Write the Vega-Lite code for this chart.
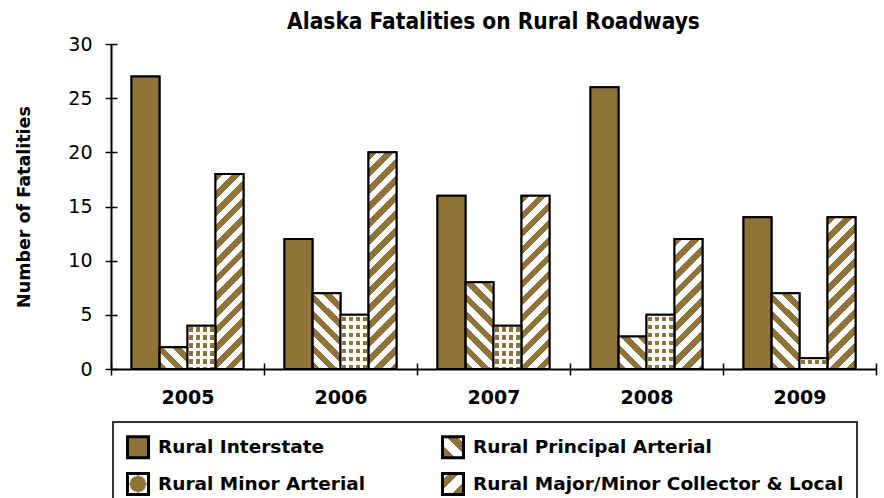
{
  "$schema": "https://vega.github.io/schema/vega-lite/v6.json",
  "autosize": "none",
  "width": 765,
  "height": 325,
  "padding": {"left": 111, "top": 44, "right": 8, "bottom": 129},
  "background": "white",
  "title": {"text": "Alaska Fatalities on Rural Roadways", "font": "Liberation Sans Narrow, DejaVu Sans Condensed, Lato", "fontSize": 22.5, "fontWeight": "bold", "color": "black", "anchor": "middle", "baseline": "alphabetic", "offset": 0, "dy": 16},
  "params": [
    {"name": "ss", "value": [{"offset":0,"color":"#8F7439"},{"offset":0.0333,"color":"#8F7439"},{"offset":0.0333,"color":"#ffffff"},{"offset":0.0667,"color":"#ffffff"},{"offset":0.0667,"color":"#8F7439"},{"offset":0.1,"color":"#8F7439"},{"offset":0.1,"color":"#ffffff"},{"offset":0.1333,"color":"#ffffff"},{"offset":0.1333,"color":"#8F7439"},{"offset":0.1667,"color":"#8F7439"},{"offset":0.1667,"color":"#ffffff"},{"offset":0.2,"color":"#ffffff"},{"offset":0.2,"color":"#8F7439"},{"offset":0.2333,"color":"#8F7439"},{"offset":0.2333,"color":"#ffffff"},{"offset":0.2667,"color":"#ffffff"},{"offset":0.2667,"color":"#8F7439"},{"offset":0.3,"color":"#8F7439"},{"offset":0.3,"color":"#ffffff"},{"offset":0.3333,"color":"#ffffff"},{"offset":0.3333,"color":"#8F7439"},{"offset":0.3667,"color":"#8F7439"},{"offset":0.3667,"color":"#ffffff"},{"offset":0.4,"color":"#ffffff"},{"offset":0.4,"color":"#8F7439"},{"offset":0.4333,"color":"#8F7439"},{"offset":0.4333,"color":"#ffffff"},{"offset":0.4667,"color":"#ffffff"},{"offset":0.4667,"color":"#8F7439"},{"offset":0.5,"color":"#8F7439"},{"offset":0.5,"color":"#ffffff"},{"offset":0.5333,"color":"#ffffff"},{"offset":0.5333,"color":"#8F7439"},{"offset":0.5667,"color":"#8F7439"},{"offset":0.5667,"color":"#ffffff"},{"offset":0.6,"color":"#ffffff"},{"offset":0.6,"color":"#8F7439"},{"offset":0.6333,"color":"#8F7439"},{"offset":0.6333,"color":"#ffffff"},{"offset":0.6667,"color":"#ffffff"},{"offset":0.6667,"color":"#8F7439"},{"offset":0.7,"color":"#8F7439"},{"offset":0.7,"color":"#ffffff"},{"offset":0.7333,"color":"#ffffff"},{"offset":0.7333,"color":"#8F7439"},{"offset":0.7667,"color":"#8F7439"},{"offset":0.7667,"color":"#ffffff"},{"offset":0.8,"color":"#ffffff"},{"offset":0.8,"color":"#8F7439"},{"offset":0.8333,"color":"#8F7439"},{"offset":0.8333,"color":"#ffffff"},{"offset":0.8667,"color":"#ffffff"},{"offset":0.8667,"color":"#8F7439"},{"offset":0.9,"color":"#8F7439"},{"offset":0.9,"color":"#ffffff"},{"offset":0.9333,"color":"#ffffff"},{"offset":0.9333,"color":"#8F7439"},{"offset":0.9667,"color":"#8F7439"},{"offset":0.9667,"color":"#ffffff"},{"offset":1,"color":"#ffffff"}]},
    {"name": "ds", "value": [{"offset":0,"color":"#ffffff"},{"offset":0.0273,"color":"#ffffff"},{"offset":0.0273,"color":"#8F7439"},{"offset":0.0977,"color":"#8F7439"},{"offset":0.0977,"color":"#ffffff"},{"offset":0.1523,"color":"#ffffff"},{"offset":0.1523,"color":"#8F7439"},{"offset":0.2227,"color":"#8F7439"},{"offset":0.2227,"color":"#ffffff"},{"offset":0.2773,"color":"#ffffff"},{"offset":0.2773,"color":"#8F7439"},{"offset":0.3477,"color":"#8F7439"},{"offset":0.3477,"color":"#ffffff"},{"offset":0.4023,"color":"#ffffff"},{"offset":0.4023,"color":"#8F7439"},{"offset":0.4727,"color":"#8F7439"},{"offset":0.4727,"color":"#ffffff"},{"offset":0.5273,"color":"#ffffff"},{"offset":0.5273,"color":"#8F7439"},{"offset":0.5977,"color":"#8F7439"},{"offset":0.5977,"color":"#ffffff"},{"offset":0.6523,"color":"#ffffff"},{"offset":0.6523,"color":"#8F7439"},{"offset":0.7227,"color":"#8F7439"},{"offset":0.7227,"color":"#ffffff"},{"offset":0.7773,"color":"#ffffff"},{"offset":0.7773,"color":"#8F7439"},{"offset":0.8477,"color":"#8F7439"},{"offset":0.8477,"color":"#ffffff"},{"offset":0.9023,"color":"#ffffff"},{"offset":0.9023,"color":"#8F7439"},{"offset":0.9727,"color":"#8F7439"},{"offset":0.9727,"color":"#ffffff"},{"offset":1,"color":"#ffffff"}]},
    {"name": "dc", "value": [{"offset":0,"color":"#ffffff"},{"offset":0.0536,"color":"#ffffff"},{"offset":0.0536,"color":"rgba(255,255,255,0)"},{"offset":0.1964,"color":"rgba(255,255,255,0)"},{"offset":0.1964,"color":"#ffffff"},{"offset":0.3036,"color":"#ffffff"},{"offset":0.3036,"color":"rgba(255,255,255,0)"},{"offset":0.4464,"color":"rgba(255,255,255,0)"},{"offset":0.4464,"color":"#ffffff"},{"offset":0.5536,"color":"#ffffff"},{"offset":0.5536,"color":"rgba(255,255,255,0)"},{"offset":0.6964,"color":"rgba(255,255,255,0)"},{"offset":0.6964,"color":"#ffffff"},{"offset":0.8036,"color":"#ffffff"},{"offset":0.8036,"color":"rgba(255,255,255,0)"},{"offset":0.9464,"color":"rgba(255,255,255,0)"},{"offset":0.9464,"color":"#ffffff"},{"offset":1,"color":"#ffffff"}]},
    {"name": "lp", "value": [{"offset": 0, "color": "#8F7439"}, {"offset": 0.3, "color": "#8F7439"}, {"offset": 0.3, "color": "#ffffff"}, {"offset": 0.6, "color": "#ffffff"}, {"offset": 0.6, "color": "#8F7439"}, {"offset": 0.85, "color": "#8F7439"}, {"offset": 0.85, "color": "#ffffff"}, {"offset": 1, "color": "#ffffff"}]},
    {"name": "lc", "value": [{"offset": 0, "color": "#ffffff"}, {"offset": 0.15, "color": "#ffffff"}, {"offset": 0.15, "color": "#8F7439"}, {"offset": 0.4, "color": "#8F7439"}, {"offset": 0.4, "color": "#ffffff"}, {"offset": 0.7, "color": "#ffffff"}, {"offset": 0.7, "color": "#8F7439"}, {"offset": 1, "color": "#8F7439"}]},
    {"name": "ld", "value": [{"offset": 0, "color": "#8F7439"}, {"offset": 0.78, "color": "#8F7439"}, {"offset": 0.78, "color": "#ffffff"}, {"offset": 1, "color": "#ffffff"}]}
  ],
  "data": {"values": [
    {"year": "2005", "type": "Rural Interstate", "value": 27},
    {"year": "2005", "type": "Rural Principal Arterial", "value": 2},
    {"year": "2005", "type": "Rural Minor Arterial", "value": 4},
    {"year": "2005", "type": "Rural Major/Minor Collector & Local", "value": 18},
    {"year": "2006", "type": "Rural Interstate", "value": 12},
    {"year": "2006", "type": "Rural Principal Arterial", "value": 7},
    {"year": "2006", "type": "Rural Minor Arterial", "value": 5},
    {"year": "2006", "type": "Rural Major/Minor Collector & Local", "value": 20},
    {"year": "2007", "type": "Rural Interstate", "value": 16},
    {"year": "2007", "type": "Rural Principal Arterial", "value": 8},
    {"year": "2007", "type": "Rural Minor Arterial", "value": 4},
    {"year": "2007", "type": "Rural Major/Minor Collector & Local", "value": 16},
    {"year": "2008", "type": "Rural Interstate", "value": 26},
    {"year": "2008", "type": "Rural Principal Arterial", "value": 3},
    {"year": "2008", "type": "Rural Minor Arterial", "value": 5},
    {"year": "2008", "type": "Rural Major/Minor Collector & Local", "value": 12},
    {"year": "2009", "type": "Rural Interstate", "value": 14},
    {"year": "2009", "type": "Rural Principal Arterial", "value": 7},
    {"year": "2009", "type": "Rural Minor Arterial", "value": 1},
    {"year": "2009", "type": "Rural Major/Minor Collector & Local", "value": 14}
  ]},
  "encoding": {
    "x": {"field": "year", "type": "nominal", "scale": {"paddingInner": 0, "paddingOuter": 0},
      "axis": {"title": null, "labelAngle": 0, "tickBand": "extent", "grid": true, "gridDash": [0, 319, 6, 1000], "gridColor": "black", "gridWidth": 1.5, "tickSize": 6, "tickWidth": 1.5, "tickColor": "black", "domainColor": "black", "domainWidth": 2, "labelFont": "DejaVu Sans", "labelFontSize": 19, "labelFontWeight": "bold", "labelColor": "black", "labelPadding": 13}},
    "xOffset": {"field": "type", "type": "nominal", "scale": {"domain": ["Rural Interstate", "Rural Principal Arterial", "Rural Minor Arterial", "Rural Major/Minor Collector & Local"], "paddingInner": 0, "paddingOuter": 0.732}},
    "y": {"field": "value", "type": "quantitative", "scale": {"domain": [0, 30], "nice": false},
      "axis": {"values": [0, 5, 10, 15, 20, 25, 30], "title": "Number of Fatalities", "titleFont": "DejaVu Sans", "titleFontSize": 17.5, "titleFontWeight": "bold", "titleColor": "black", "titlePadding": 34, "grid": true, "gridDash": [6, 2000], "gridColor": "black", "gridWidth": 1.5, "tickSize": 6, "tickWidth": 1.5, "tickColor": "black", "domainColor": "black", "domainWidth": 2, "labelFont": "DejaVu Sans", "labelFontSize": 19, "labelColor": "black", "labelPadding": 13}}
  },
  "layer": [
    {
      "mark": {"type": "bar", "strokeWidth": 2},
      "encoding": {
        "fill": {"field": "type", "type": "nominal",
          "scale": {"domain": ["Rural Interstate", "Rural Principal Arterial", "Rural Minor Arterial", "Rural Major/Minor Collector & Local"],
            "range": [
              "#8F7439",
              {"expr": "{gradient: 'linear', x1: 0, y1: 1, x2: 1, y2: 0, stops: lp}"},
              {"expr": "{gradient: 'radial', x1: 0.5, y1: 0.5, r1: 0, x2: 0.5, y2: 0.5, r2: 0.5, stops: ld}"},
              {"expr": "{gradient: 'linear', x1: 0, y1: 0, x2: 1, y2: 1, stops: lc}"}
            ]},
          "legend": {"title": null, "orient": "none", "legendX": 2, "legendY": 378, "direction": "horizontal", "columns": 2, "strokeColor": "#333333", "padding": 13, "symbolType": "square", "symbolSize": 441, "symbolStrokeColor": "black", "symbolStrokeWidth": 3, "labelFont": "DejaVu Sans", "labelFontSize": 18.5, "labelFontWeight": "bold", "labelColor": "black", "labelOffset": 8, "labelLimit": 500, "rowPadding": 3, "columnPadding": 70}},
        "stroke": {"field": "type", "type": "nominal",
          "scale": {"domain": ["Rural Interstate", "Rural Principal Arterial", "Rural Minor Arterial", "Rural Major/Minor Collector & Local"], "range": ["black", "black", "black", "black"]}}
      }
    },
    {
      "mark": {"type": "bar", "strokeWidth": 0},
      "encoding": {
        "fill": {"value": {"expr": "datum.type === 'Rural Interstate' ? '#8F7439' : datum.type === 'Rural Principal Arterial' ? {gradient: 'linear', x1: 0, y1: 1, x2: 7140/(784 + datum.value*datum.value*117.36), y2: 1 - 2762.5*datum.value/(784 + datum.value*datum.value*117.36), stops: ss} : datum.type === 'Rural Minor Arterial' ? {gradient: 'linear', x1: 0, y1: 0, x2: 0, y2: 5.908/datum.value, stops: ds} : {gradient: 'linear', x1: 0, y1: 0, x2: 7140/(784 + datum.value*datum.value*117.36), y2: 2762.5*datum.value/(784 + datum.value*datum.value*117.36), stops: ss}"}}
      }
    },
    {
      "mark": {"type": "bar", "stroke": "black", "strokeWidth": 2},
      "encoding": {
        "fill": {"value": {"expr": "datum.type === 'Rural Minor Arterial' ? {gradient: 'linear', x1: 0, y1: 0, x2: 1, y2: 0, stops: dc} : 'transparent'"}}
      }
    }
  ],
  "config": {"view": {"stroke": null}, "legend": {"strokeWidth": 2}}
}
